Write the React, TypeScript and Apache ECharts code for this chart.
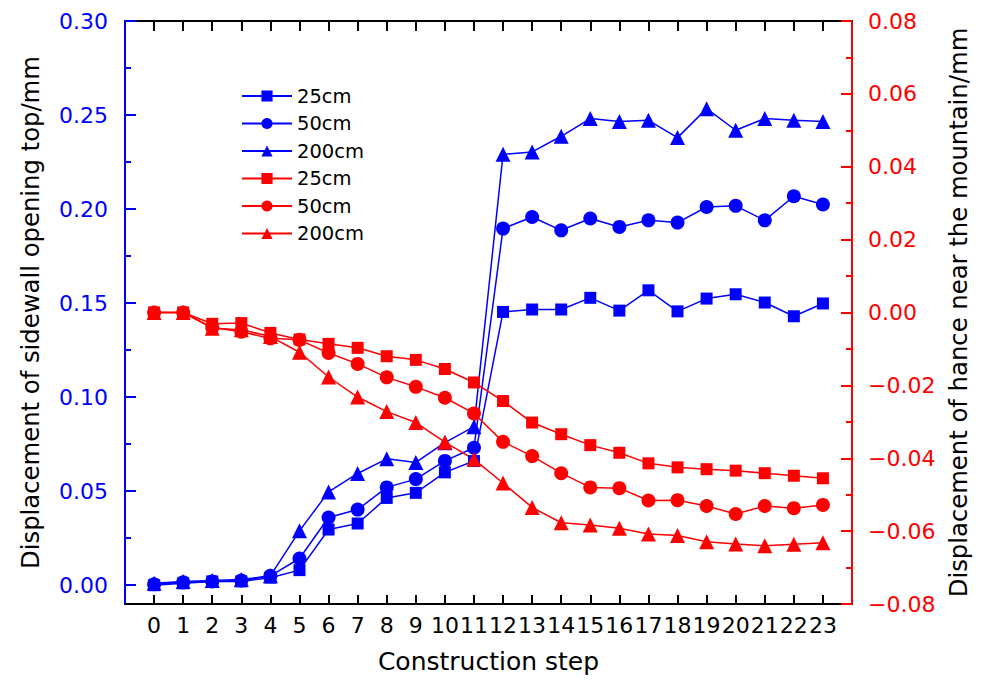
import React, { useEffect, useRef } from "react";
import * as echarts from "echarts";

const steps = [0, 1, 2, 3, 4, 5, 6, 7, 8, 9, 10, 11, 12, 13, 14, 15, 16, 17, 18, 19, 20, 21, 22, 23];

const leftLabels = [0, 0.05, 0.1, 0.15, 0.2, 0.25, 0.3];
const leftMinor = [0.025, 0.075, 0.125, 0.175, 0.225, 0.275];

const blue25 = [0.0, 0.001, 0.002, 0.002, 0.004, 0.008, 0.0296, 0.0328, 0.0464, 0.0491, 0.06, 0.066, 0.1453, 0.1466, 0.1466, 0.1528, 0.146, 0.1568, 0.1456, 0.1524, 0.1547, 0.1503, 0.143, 0.1498];
const blue50 = [0.0005, 0.0015, 0.002, 0.0025, 0.005, 0.0142, 0.036, 0.0402, 0.052, 0.0564, 0.0661, 0.0731, 0.1896, 0.1958, 0.1887, 0.195, 0.1905, 0.194, 0.1928, 0.2011, 0.2017, 0.194, 0.2068, 0.2024];
const blue200 = [0.001, 0.002, 0.0025, 0.003, 0.005, 0.0289, 0.0496, 0.0594, 0.0672, 0.0653, 0.0758, 0.0843, 0.2291, 0.2304, 0.2387, 0.2481, 0.2466, 0.2472, 0.238, 0.2534, 0.2419, 0.2481, 0.2472, 0.2466];
const red25 = [0, 0, -0.0031, -0.0029, -0.0056, -0.0074, -0.0086, -0.0097, -0.012, -0.013, -0.0155, -0.0192, -0.0243, -0.0302, -0.0334, -0.0364, -0.0385, -0.0414, -0.0425, -0.043, -0.0434, -0.0441, -0.0448, -0.0455];
const red50 = [0, 0, -0.0041, -0.0053, -0.0071, -0.0075, -0.0111, -0.0141, -0.0178, -0.0204, -0.0234, -0.0277, -0.0355, -0.0394, -0.0441, -0.048, -0.0482, -0.0516, -0.0515, -0.0531, -0.0553, -0.0531, -0.0537, -0.0528];
const red200 = [0, 0, -0.0043, -0.0047, -0.0066, -0.0109, -0.0177, -0.0232, -0.0272, -0.0302, -0.0356, -0.0403, -0.0468, -0.0535, -0.0577, -0.0583, -0.0592, -0.0608, -0.0612, -0.0629, -0.0635, -0.064, -0.0636, -0.0632];

const BLUE = "#0000ff";
const RED = "#ff0000";
const FONT = "DejaVu Sans";

function fmt(v: number) {
  const s = Math.abs(v).toFixed(2);
  return v < -1e-9 ? "\u2212" + s : s;
}

export default function App() {
  const ref = useRef<HTMLDivElement>(null);
  useEffect(() => {
    if (!ref.current) return;
    const chart = echarts.init(ref.current, undefined, { renderer: "svg" });
    const mk = (name: string, vals: number[], color: string, symbol: string, size: number, yIdx: number) => ({
      type: "line",
      name,
      xAxisIndex: 0,
      yAxisIndex: yIdx,
      data: steps.map((s, i) => [s, vals[i]]),
      symbol,
      symbolSize: size,
      showAllSymbol: true,
      lineStyle: { color, width: 1.5 },
      itemStyle: { color },
    });
    chart.setOption({
      animation: false,
      backgroundColor: "#ffffff",
      textStyle: { fontFamily: FONT },
      grid: { left: 125, right: 129, top: 21, bottom: 78, containLabel: false },
      legend: {
        orient: "vertical",
        left: 241,
        top: 86,
        padding: 0,
        itemWidth: 50,
        itemHeight: 14,
        itemGap: 7.5,
        textStyle: { fontSize: 19.5, color: "#000", fontFamily: FONT },
        formatter: (n: string) => n.trim(),
        data: ["25cm", "50cm", "200cm", "25cm ", "50cm ", "200cm "],
      },
      xAxis: [
        {
          type: "value",
          min: -1,
          max: 24,
          position: "bottom",
          name: "Construction step",
          nameLocation: "middle",
          nameGap: 45,
          nameTextStyle: { fontSize: 25, color: "#000", fontFamily: FONT },
          axisLine: { show: true, onZero: false, lineStyle: { color: "#000", width: 2 } },
          axisTick: { show: true, inside: true, length: 9, customValues: steps, lineStyle: { color: "#000", width: 2 } },
          axisLabel: { show: true, customValues: steps, fontSize: 22, color: "#000", margin: 10, fontFamily: FONT },
          splitLine: { show: false },
        },
        {
          type: "value",
          min: -1,
          max: 24,
          position: "top",
          axisLine: { show: true, onZero: false, lineStyle: { color: "#000", width: 2 } },
          axisTick: { show: true, inside: true, length: 10, customValues: steps, lineStyle: { color: "#000", width: 2 } },
          axisLabel: { show: false },
          splitLine: { show: false },
        },
      ],
      yAxis: [
        {
          type: "value",
          min: -0.01,
          max: 0.3,
          position: "left",
          name: "Displacement of sidewall opening top/mm",
          nameLocation: "middle",
          nameRotate: 90,
          nameGap: 83,
          nameTextStyle: { fontSize: 24.3, color: "#000", fontFamily: FONT },
          axisLine: { show: true, onZero: false, lineStyle: { color: BLUE, width: 2 } },
          axisTick: { show: true, inside: true, length: 11, customValues: leftLabels, lineStyle: { color: BLUE, width: 2 } },
          axisLabel: { show: true, customValues: leftLabels, formatter: fmt, fontSize: 22, color: BLUE, margin: 17, fontFamily: FONT },
          splitLine: { show: false },
        },
        {
          type: "value",
          min: -0.08,
          max: 0.08,
          interval: 0.02,
          position: "right",
          name: "Displacement of hance near the mountain/mm",
          nameLocation: "middle",
          nameRotate: 90,
          nameGap: 93,
          nameTextStyle: { fontSize: 24.3, color: "#000", fontFamily: FONT },
          axisLine: { show: true, onZero: false, lineStyle: { color: RED, width: 2 } },
          axisTick: { show: true, inside: true, length: 11, lineStyle: { color: RED, width: 2 } },
          minorTick: { show: true, splitNumber: 2, length: 6, lineStyle: { color: RED, width: 2 } },
          axisLabel: { show: true, formatter: fmt, fontSize: 22, color: RED, margin: 16, fontFamily: FONT },
          splitLine: { show: false },
          minorSplitLine: { show: false },
        },
        {
          type: "value",
          min: -0.01,
          max: 0.3,
          position: "left",
          offset: 0,
          axisLine: { show: false, onZero: false },
          axisTick: { show: true, inside: true, length: 6, customValues: leftMinor, lineStyle: { color: BLUE, width: 2 } },
          axisLabel: { show: false },
          splitLine: { show: false },
        },
      ],
      series: [
        mk("25cm", blue25, BLUE, "rect", 12, 0),
        mk("50cm", blue50, BLUE, "circle", 14, 0),
        mk("200cm", blue200, BLUE, "triangle", 15, 0),
        mk("25cm ", red25, RED, "rect", 12, 1),
        mk("50cm ", red50, RED, "circle", 14, 1),
        mk("200cm ", red200, RED, "triangle", 15, 1),
      ],
    });
    return () => chart.dispose();
  }, []);
  return <div ref={ref} style={{ position: "fixed", left: 0, top: 0, width: 981, height: 682 }} />;
}
